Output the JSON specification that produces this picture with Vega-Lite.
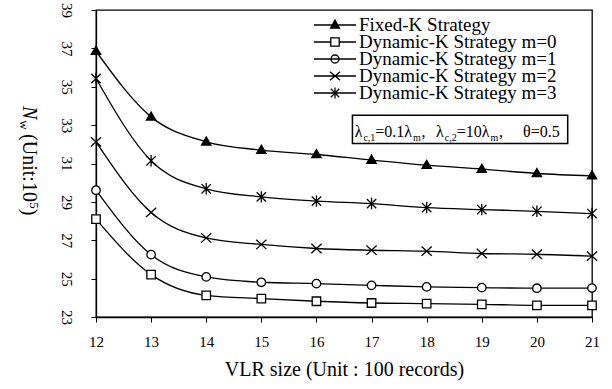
{
  "$schema": "https://vega.github.io/schema/vega-lite/v6.json",
  "width": 496,
  "height": 307,
  "autosize": {"type": "none"},
  "padding": {"left": 96, "top": 10, "right": 20, "bottom": 72},
  "background": "white",
  "config": {
    "font": "Liberation Serif",
    "view": {"stroke": "black", "strokeWidth": 1.3},
    "axis": {"domainColor": "black", "domainWidth": 1.3, "tickColor": "black", "tickWidth": 1, "labelColor": "black", "titleColor": "black", "grid": false, "labelFont": "Liberation Serif", "titleFont": "Liberation Serif"},
    "legend": {"labelFont": "Liberation Serif"}
  },
  "datasets": {
    "main": [
      {"s": "Fixed-K Strategy", "x": 12, "y": 36.85}, {"s": "Fixed-K Strategy", "x": 13, "y": 33.43}, {"s": "Fixed-K Strategy", "x": 14, "y": 32.13}, {"s": "Fixed-K Strategy", "x": 15, "y": 31.70}, {"s": "Fixed-K Strategy", "x": 16, "y": 31.47}, {"s": "Fixed-K Strategy", "x": 17, "y": 31.18}, {"s": "Fixed-K Strategy", "x": 18, "y": 30.91}, {"s": "Fixed-K Strategy", "x": 19, "y": 30.71}, {"s": "Fixed-K Strategy", "x": 20, "y": 30.48}, {"s": "Fixed-K Strategy", "x": 21, "y": 30.36},
      {"s": "Dynamic-K Strategy m=0", "x": 12, "y": 28.10}, {"s": "Dynamic-K Strategy m=0", "x": 13, "y": 25.21}, {"s": "Dynamic-K Strategy m=0", "x": 14, "y": 24.13}, {"s": "Dynamic-K Strategy m=0", "x": 15, "y": 23.96}, {"s": "Dynamic-K Strategy m=0", "x": 16, "y": 23.82}, {"s": "Dynamic-K Strategy m=0", "x": 17, "y": 23.73}, {"s": "Dynamic-K Strategy m=0", "x": 18, "y": 23.70}, {"s": "Dynamic-K Strategy m=0", "x": 19, "y": 23.66}, {"s": "Dynamic-K Strategy m=0", "x": 20, "y": 23.61}, {"s": "Dynamic-K Strategy m=0", "x": 21, "y": 23.61},
      {"s": "Dynamic-K Strategy m=1", "x": 12, "y": 29.61}, {"s": "Dynamic-K Strategy m=1", "x": 13, "y": 26.25}, {"s": "Dynamic-K Strategy m=1", "x": 14, "y": 25.09}, {"s": "Dynamic-K Strategy m=1", "x": 15, "y": 24.81}, {"s": "Dynamic-K Strategy m=1", "x": 16, "y": 24.74}, {"s": "Dynamic-K Strategy m=1", "x": 17, "y": 24.65}, {"s": "Dynamic-K Strategy m=1", "x": 18, "y": 24.57}, {"s": "Dynamic-K Strategy m=1", "x": 19, "y": 24.53}, {"s": "Dynamic-K Strategy m=1", "x": 20, "y": 24.50}, {"s": "Dynamic-K Strategy m=1", "x": 21, "y": 24.51},
      {"s": "Dynamic-K Strategy m=2", "x": 12, "y": 32.13}, {"s": "Dynamic-K Strategy m=2", "x": 13, "y": 28.45}, {"s": "Dynamic-K Strategy m=2", "x": 14, "y": 27.12}, {"s": "Dynamic-K Strategy m=2", "x": 15, "y": 26.78}, {"s": "Dynamic-K Strategy m=2", "x": 16, "y": 26.57}, {"s": "Dynamic-K Strategy m=2", "x": 17, "y": 26.48}, {"s": "Dynamic-K Strategy m=2", "x": 18, "y": 26.43}, {"s": "Dynamic-K Strategy m=2", "x": 19, "y": 26.31}, {"s": "Dynamic-K Strategy m=2", "x": 20, "y": 26.27}, {"s": "Dynamic-K Strategy m=2", "x": 21, "y": 26.17},
      {"s": "Dynamic-K Strategy m=3", "x": 12, "y": 35.43}, {"s": "Dynamic-K Strategy m=3", "x": 13, "y": 31.14}, {"s": "Dynamic-K Strategy m=3", "x": 14, "y": 29.68}, {"s": "Dynamic-K Strategy m=3", "x": 15, "y": 29.26}, {"s": "Dynamic-K Strategy m=3", "x": 16, "y": 29.04}, {"s": "Dynamic-K Strategy m=3", "x": 17, "y": 28.91}, {"s": "Dynamic-K Strategy m=3", "x": 18, "y": 28.70}, {"s": "Dynamic-K Strategy m=3", "x": 19, "y": 28.60}, {"s": "Dynamic-K Strategy m=3", "x": 20, "y": 28.51}, {"s": "Dynamic-K Strategy m=3", "x": 21, "y": 28.39}
    ],
    "box": [{"x": 16.653, "x2": 20.559, "y": 32.04, "y2": 33.52}],
    "annMain": [
      {"t": "λ", "x": 16.693, "y": 32.36},
      {"t": "=0.1λ", "x": 17.068, "y": 32.36},
      {"t": ",", "x": 17.908, "y": 32.36},
      {"t": "λ", "x": 18.170, "y": 32.36},
      {"t": "=10λ", "x": 18.546, "y": 32.36},
      {"t": ",", "x": 19.313, "y": 32.36},
      {"t": "θ=0.5", "x": 19.75, "y": 32.36}
    ],
    "annSub": [
      {"t": "c,1", "x": 16.852, "y": 32.36},
      {"t": "m", "x": 17.753, "y": 32.36},
      {"t": "c,2", "x": 18.330, "y": 32.36},
      {"t": "m", "x": 19.159, "y": 32.36}
    ],
    "yMain": [
      {"t": "(Unit:10", "x": 10.781, "y": 32.531},
      {"t": ")", "x": 10.781, "y": 28.645}
    ],
    "yItalic": [{"t": "N", "x": 10.781, "y": 34.0}],
    "ySmall": [
      {"t": "w", "x": 10.700, "y": 33.25},
      {"t": "5", "x": 10.881, "y": 28.984}
    ]
  },
  "encoding": {
    "x": {"field": "x", "type": "quantitative", "scale": {"domain": [12, 21], "nice": false, "zero": false},
      "axis": {"values": [12, 13, 14, 15, 16, 17, 18, 19, 20, 21], "format": "d", "tickSize": 5, "labelFontSize": 15, "labelPadding": 12, "labelFlush": false, "labelOverlap": false, "title": "VLR size (Unit : 100 records)", "titleFontSize": 20, "titleFontWeight": "normal", "titlePadding": 10}},
    "y": {"field": "y", "type": "quantitative", "scale": {"domain": [23, 39], "nice": false, "zero": false},
      "axis": {"values": [23, 25, 27, 29, 31, 33, 35, 37, 39], "tickSize": 5, "labelFontSize": 15, "labelAngle": 90, "labelAlign": "center", "labelBaseline": "top", "labelPadding": 18, "labelFlush": false, "labelOverlap": false, "title": null}}
  },
  "layer": [
    {
      "data": {"name": "main"},
      "mark": {"type": "line", "interpolate": "monotone", "color": "black", "strokeWidth": 1.3},
      "encoding": {"detail": {"field": "s", "type": "nominal"}}
    },
    {
      "data": {"name": "main"},
      "mark": {"type": "point", "filled": true, "size": 72, "stroke": "black", "strokeWidth": 1.3, "opacity": 1},
      "encoding": {
        "shape": {"field": "s", "type": "nominal", "legend": null,
          "scale": {"domain": ["Fixed-K Strategy", "Dynamic-K Strategy m=0", "Dynamic-K Strategy m=1", "Dynamic-K Strategy m=2", "Dynamic-K Strategy m=3"],
            "range": ["M0,-1.15L1.1,0.75L-1.1,0.75Z", "M-1,-1H1V1H-1Z", "M1,0A1,1,0,1,1,-1,0A1,1,0,1,1,1,0Z", "M-1.2,-1.1L1.2,1.1M-1.2,1.1L1.2,-1.1", "M-1.1,-1.1L1.1,1.1M-1.1,1.1L1.1,-1.1M0,-1.35V1.35"]}},
        "fill": {"field": "s", "type": "nominal", "legend": null,
          "scale": {"domain": ["Fixed-K Strategy", "Dynamic-K Strategy m=0", "Dynamic-K Strategy m=1", "Dynamic-K Strategy m=2", "Dynamic-K Strategy m=3"],
            "range": ["black", "white", "white", "white", "white"]}}
      }
    },
    {
      "data": {"name": "main"},
      "mark": {"type": "point", "filled": true, "size": 1764, "stroke": "black", "strokeWidth": 1.3, "opacity": 0},
      "encoding": {
        "shape": {"field": "s", "type": "nominal",
          "scale": {"domain": ["Fixed-K Strategy", "Dynamic-K Strategy m=0", "Dynamic-K Strategy m=1", "Dynamic-K Strategy m=2", "Dynamic-K Strategy m=3"],
            "range": ["M-1,0H1M0,-0.23L0.21,0.15L-0.21,0.15Z", "M-1,0H-0.2M0.2,0H1M-0.2,-0.2H0.2V0.2H-0.2Z", "M-1,0H1M0.19,0A0.19,0.19,0,1,1,-0.19,0A0.19,0.19,0,1,1,0.19,0Z", "M-1,0H1M-0.24,-0.2L0.24,0.2M-0.24,0.2L0.24,-0.2", "M-1,0H1M-0.2,-0.2L0.2,0.2M-0.2,0.2L0.2,-0.2M0,-0.26V0.26"]},
          "legend": {"orient": "none", "legendX": 217, "legendY": 8, "title": null, "padding": 0, "labelFont": "Liberation Serif", "labelFontSize": 19, "labelColor": "black", "labelLimit": 400, "labelOffset": 2, "symbolSize": 1764, "rowPadding": -3, "clipHeight": 14, "symbolStrokeWidth": 1.3, "symbolStrokeColor": "black", "symbolOpacity": 1,
            "encode": {"symbols": {"update": {"opacity": {"value": 1}, "stroke": {"value": "black"}, "strokeWidth": {"value": 1.3}}}, "labels": {"update": {"font": {"value": "Liberation Serif"}}}}}},
        "fill": {"field": "s", "type": "nominal",
          "scale": {"domain": ["Fixed-K Strategy", "Dynamic-K Strategy m=0", "Dynamic-K Strategy m=1", "Dynamic-K Strategy m=2", "Dynamic-K Strategy m=3"],
            "range": ["black", "white", "white", "white", "white"]},
          "legend": {"orient": "none", "legendX": 217, "legendY": 8, "title": null, "padding": 0, "labelFont": "Liberation Serif", "labelFontSize": 19, "labelColor": "black", "labelLimit": 400, "labelOffset": 2, "symbolSize": 1764, "rowPadding": -3, "clipHeight": 14, "symbolStrokeWidth": 1.3, "symbolStrokeColor": "black", "symbolOpacity": 1,
            "encode": {"symbols": {"update": {"opacity": {"value": 1}, "stroke": {"value": "black"}, "strokeWidth": {"value": 1.3}}}, "labels": {"update": {"font": {"value": "Liberation Serif"}}}}}}
      }
    },
    {
      "data": {"name": "box"},
      "mark": {"type": "rect", "fill": "white", "stroke": "black", "strokeWidth": 1.5},
      "encoding": {"x2": {"field": "x2"}, "y2": {"field": "y2"}}
    },
    {
      "data": {"name": "annMain"},
      "mark": {"type": "text", "align": "left", "baseline": "alphabetic", "fontSize": 16, "font": "Liberation Serif", "color": "black"},
      "encoding": {"text": {"field": "t", "type": "nominal"}}
    },
    {
      "data": {"name": "annSub"},
      "mark": {"type": "text", "align": "left", "baseline": "alphabetic", "fontSize": 10, "dy": 4, "font": "Liberation Serif", "color": "black"},
      "encoding": {"text": {"field": "t", "type": "nominal"}}
    },
    {
      "data": {"name": "yMain"},
      "mark": {"type": "text", "align": "left", "baseline": "middle", "angle": 90, "fontSize": 20, "font": "Liberation Serif", "color": "black"},
      "encoding": {"text": {"field": "t", "type": "nominal"}}
    },
    {
      "data": {"name": "yItalic"},
      "mark": {"type": "text", "align": "left", "baseline": "middle", "angle": 90, "fontSize": 20, "fontStyle": "italic", "font": "Liberation Serif", "color": "black"},
      "encoding": {"text": {"field": "t", "type": "nominal"}}
    },
    {
      "data": {"name": "ySmall"},
      "mark": {"type": "text", "align": "left", "baseline": "middle", "angle": 90, "fontSize": 13, "font": "Liberation Serif", "color": "black"},
      "encoding": {"text": {"field": "t", "type": "nominal"}}
    }
  ],
  "resolve": {"scale": {"shape": "independent", "fill": "independent"}, "legend": {"shape": "independent", "fill": "independent"}}
}
